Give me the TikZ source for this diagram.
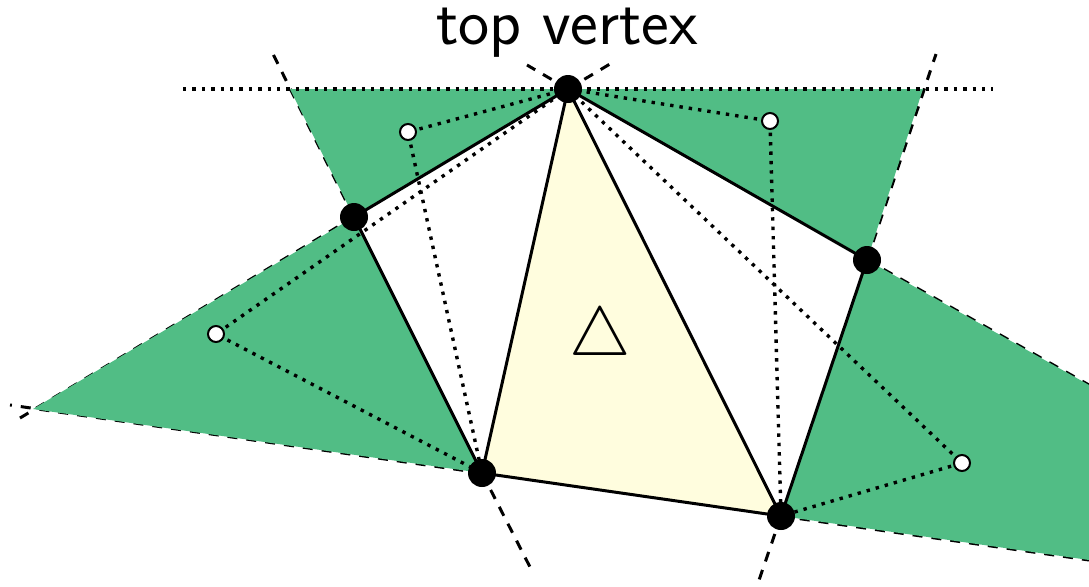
\RequirePackage{fix-cm}
\documentclass[tikz,border=0pt]{standalone}
\usepackage{fontspec}
\usepackage{graphicx}
\definecolor{vgreen}{RGB}{81,189,133}
\definecolor{tyellow}{RGB}{255,253,222}
\tikzset{
  dashline/.style={line width=1.5pt, dash pattern=on 5pt off 4.5pt},
  dotline/.style={line width=1.7pt, dash pattern=on 1.7pt off 3pt},
  edgeline/.style={line width=1.5pt, line join=round},
  vdot/.style={circle, fill=black, inner sep=0pt, minimum size=14pt},
  cdot/.style={circle, draw=black, fill=white, line width=1pt, inner sep=0pt, minimum size=8pt},
  lbl/.style={font=\sffamily\fontsize{33}{40}\selectfont, inner sep=0pt},
  trilbl/.style={inner sep=0pt},
}
\begin{document}
\begin{tikzpicture}[x=0.5pt,y=-0.5pt]
\useasboundingbox (0,0) rectangle (1089,586);
% pentagon vertices
\coordinate (T) at (568,89);
\coordinate (L) at (354,217);
\coordinate (BL) at (482,473);
\coordinate (BR) at (781,516);
\coordinate (R) at (867,260);
% circumcentres
\coordinate (C1) at (216,334);
\coordinate (C2) at (408,132);
\coordinate (C3) at (770,121);
\coordinate (C4) at (962,463);
% region corners
\coordinate (G1) at (290,89);
\coordinate (G2) at (923,89);
\coordinate (G3) at (33,409);
\coordinate (G4) at (1089,385);
\coordinate (G5) at (1089,560);
% ray ends
\coordinate (E1) at (272,52);
\coordinate (E2) at (527,65);
\coordinate (E3) at (615,61);
\coordinate (E4) at (936,54);
\coordinate (E5) at (10,405);
\coordinate (E6) at (20,418);
\coordinate (E7) at (530,567);
\coordinate (E8) at (757,586);
% dashed region boundaries
\draw[dashline] (L) -- (E1);
\draw[dashline] (T) -- (E2);
\draw[dashline] (T) -- (E3);
\draw[dashline] (R) -- (E4);
\draw[dashline] (BL) -- (E5);
\draw[dashline] (L) -- (E6);
\draw[dashline] (BL) -- (E7);
\draw[dashline] (BR) -- (E8);
\draw[dashline] (R) -- (G4);
\draw[dashline] (BR) -- (G5);
% green regions
\fill[vgreen] (G1) -- (T) -- (L) -- cycle;
\fill[vgreen] (T) -- (G2) -- (R) -- cycle;
\fill[vgreen] (L) -- (G3) -- (BL) -- cycle;
\fill[vgreen] (R) -- (G4) -- (G5) -- (BR) -- cycle;
% yellow triangle
\fill[tyellow] (T) -- (BL) -- (BR) -- cycle;
% dotted lines
\coordinate (H1) at (183,89);
\coordinate (H2) at (993,89);
\draw[dotline] (H1) -- (H2);
\draw[dotline] (T) -- (C1) -- (BL);
\draw[dotline] (T) -- (C2) -- (BL);
\draw[dotline] (T) -- (C3) -- (BR);
\draw[dotline] (T) -- (C4) -- (BR);
% solid edges
\draw[edgeline] (T) -- (L) -- (BL) -- (BR) -- (R) -- cycle;
\draw[edgeline] (BL) -- (T) -- (BR);
% vertices
\node[vdot] (vT) at (T) {};
\node[vdot] (vL) at (L) {};
\node[vdot] (vBL) at (BL) {};
\node[vdot] (vBR) at (BR) {};
\node[vdot] (vR) at (R) {};
\node[cdot] (c1) at (C1) {};
\node[cdot] (c2) at (C2) {};
\node[cdot] (c3) at (C3) {};
\node[cdot] (c4) at (C4) {};
% labels
\node[lbl, anchor=base] (title) at (567,44) {top vertex};
\node[trilbl, anchor=base] (tri) at (600.5,355) {\resizebox{!}{24pt}{$\triangle$}};
\end{tikzpicture}
\end{document}
